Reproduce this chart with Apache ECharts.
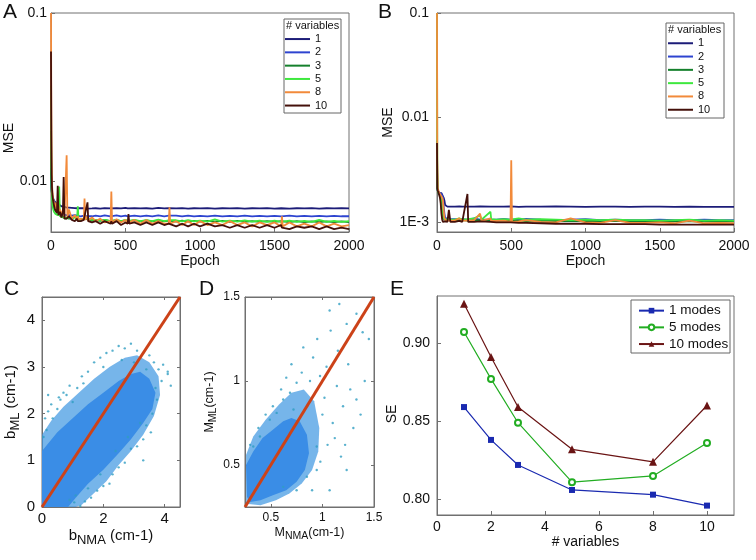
<!DOCTYPE html>
<html><head><meta charset="utf-8">
<script src="https://cdn.jsdelivr.net/npm/echarts@6/dist/echarts.min.js"></script>
<style>html,body{margin:0;padding:0;background:#fff}#c{width:756px;height:560px}</style>
</head><body><div id="c"></div>
<script>
// ---------- DATA ----------
const varNames = ['1', '2', '3', '5', '8', '10'];
const epochsA = [0,2,4,7,10,15,20,25,30,35,
 40,45,50,55,60,70,80,85,90,100,
 105,110,120,140,160,175,180,185,200,220,
 225,230,245,250,275,300,330,360,400,405,
 410,440,470,500,515,520,525,560,600,640,
 680,720,760,790,795,800,840,880,920,960,
 1000,1050,1100,1150,1200,1250,1300,1350,1400,1450,
 1500,1545,1550,1555,1600,1650,1700,1750,1800,1850,
 1900,1950,2000];
const a1 = [0.012,0.0095,0.0088,0.0084,0.0081,0.0079,0.0077,0.0076,0.0075,0.0074,
 0.0074,0.0073,0.0073,0.0072,0.0072,0.0071,0.0071,0.0071,0.0070,0.0070,
 0.0070,0.0070,0.00698,0.00696,0.00694,0.00692,0.00695,0.00691,0.00692,0.00694,
 0.0069,0.00692,0.00689,0.00693,0.0069,0.00692,0.00688,0.00694,0.0069,0.00692,
 0.00689,0.00693,0.0069,0.00696,0.0069,0.00692,0.00688,0.00693,0.0069,0.00692,
 0.00689,0.00696,0.0069,0.00693,0.00689,0.00692,0.0069,0.00694,0.00689,0.00692,
 0.0069,0.00693,0.00689,0.00692,0.0069,0.00694,0.00689,0.00692,0.0069,0.00693,
 0.00689,0.00692,0.0069,0.00693,0.00689,0.00692,0.0069,0.00694,0.00689,0.00692,
 0.0069,0.00693,0.0069];
const a2 = [0.015,0.0098,0.009,0.0085,0.008,0.0076,0.0073,0.0071,0.007,0.0069,
 0.0068,0.0067,0.0066,0.0066,0.0065,0.0065,0.0064,0.0064,0.0064,0.0063,
 0.0063,0.0063,0.0063,0.00625,0.0063,0.00625,0.0064,0.0062,0.0062,0.00625,
 0.0062,0.0064,0.0062,0.00622,0.0062,0.00625,0.0062,0.00628,0.0062,0.00622,
 0.0062,0.00628,0.0062,0.00625,0.0062,0.00635,0.0062,0.00625,0.00619,0.00625,
 0.0062,0.00627,0.0062,0.00625,0.0062,0.0062,0.00625,0.00619,0.00626,0.0062,
 0.00624,0.0062,0.00626,0.0062,0.00624,0.00619,0.00625,0.0062,0.00623,0.0062,
 0.00624,0.0062,0.00622,0.0062,0.00625,0.0062,0.00623,0.00619,0.00624,0.0062,
 0.00623,0.0062,0.0062];
const a3 = [0.02,0.011,0.0092,0.0082,0.0077,0.0073,0.007,0.0068,0.0067,0.0066,
 0.0065,0.0064,0.0064,0.0063,0.0063,0.0062,0.0062,0.0061,0.0061,0.0061,
 0.006,0.006,0.006,0.006,0.0062,0.0059,0.006,0.0059,0.0059,0.006,
 0.0059,0.0059,0.00595,0.0059,0.00585,0.0059,0.00583,0.0059,0.0058,0.00588,
 0.0058,0.00588,0.0058,0.00587,0.0058,0.0059,0.0058,0.00586,0.00579,0.00586,
 0.00579,0.00586,0.00578,0.00585,0.00578,0.00584,0.00577,0.00584,0.00577,0.00583,
 0.00576,0.00583,0.00576,0.00582,0.00575,0.00582,0.00575,0.00581,0.00574,0.00581,
 0.00574,0.0058,0.00574,0.0058,0.00573,0.0058,0.00573,0.00579,0.00572,0.00579,
 0.00572,0.00578,0.00572];
const a5 = [0.037,0.012,0.009,0.0078,0.0072,0.0068,0.0066,0.0065,0.0064,0.0064,
 0.0063,0.0063,0.0065,0.0093,0.0062,0.0062,0.0061,0.0061,0.0061,0.006,
 0.006,0.006,0.0061,0.006,0.0061,0.006,0.0071,0.0059,0.0059,0.006,
 0.0059,0.0059,0.006,0.0059,0.0059,0.0059,0.00585,0.0059,0.0058,0.0059,
 0.0058,0.0059,0.0058,0.0059,0.0058,0.0058,0.0058,0.0059,0.0058,0.00588,
 0.0058,0.00592,0.0058,0.00587,0.0058,0.0058,0.00587,0.00578,0.00588,0.00578,
 0.00585,0.00577,0.00595,0.00577,0.00584,0.00576,0.00586,0.00576,0.00584,0.00575,
 0.00585,0.00575,0.00583,0.00575,0.00584,0.00574,0.00583,0.00574,0.0059,0.00574,
 0.00583,0.00574,0.0058];
const a8 = [0.1,0.03,0.014,0.0095,0.0085,0.0078,0.0074,0.0071,0.0069,0.0075,
 0.0066,0.0065,0.0072,0.0064,0.0068,0.0063,0.0062,0.007,0.0061,0.0062,
 0.0143,0.0061,0.0068,0.006,0.0063,0.0059,0.0062,0.0059,0.006,0.0059,
 0.0079,0.0059,0.0062,0.0058,0.0061,0.0058,0.006,0.0057,0.0058,0.0087,
 0.0057,0.00595,0.0057,0.0059,0.0056,0.006,0.0057,0.0059,0.0056,0.0059,
 0.0056,0.0058,0.0056,0.0056,0.007,0.0056,0.0058,0.0055,0.0058,0.0055,
 0.0058,0.0055,0.0057,0.0055,0.0058,0.0055,0.0057,0.0054,0.0057,0.0055,
 0.0057,0.0054,0.0062,0.0054,0.0057,0.0054,0.0056,0.0054,0.0057,0.0054,
 0.0056,0.0054,0.0055];
const a10 = [0.059,0.02,0.011,0.009,0.0082,0.0076,0.0072,0.0069,0.0067,0.0066,
 0.0065,0.0094,0.0063,0.0062,0.0066,0.0061,0.0066,0.0106,0.006,0.0061,
 0.006,0.0059,0.0062,0.0059,0.0058,0.006,0.0058,0.0059,0.0058,0.0059,
 0.0058,0.0059,0.0075,0.0058,0.0057,0.0058,0.0056,0.0058,0.0056,0.0058,
 0.0056,0.0058,0.0055,0.0057,0.0056,0.0064,0.0056,0.0057,0.0055,0.0057,
 0.0055,0.0057,0.0055,0.0056,0.0055,0.0057,0.0054,0.0056,0.0054,0.0056,
 0.0054,0.0056,0.0054,0.0055,0.0053,0.0055,0.0053,0.0055,0.0053,0.0055,
 0.0053,0.0055,0.0053,0.0054,0.0052,0.0054,0.0053,0.0054,0.0052,0.0054,
 0.0052,0.0053,0.0052];

const epochsB = [0,2,5,10,15,20,25,30,35,40,45,50,55,60,65,70,80,90,100,120,150,170,205,210,250,290,300,360,365,400,450,495,500,505,550,600,700,800,900,1000,1100,1200,1300,1400,1500,1600,1700,1800,1900,2000];
const b1 = [0.004,0.0022,0.002,0.00195,0.0019,0.0019,0.0019,0.00188,0.00185,0.0018,
 0.0017,0.0016,0.00145,0.0014,0.0014,0.0014,0.00141,0.0014,0.00139,0.0014,
 0.00141,0.0014,0.0014,0.00139,0.0014,0.00141,0.0014,0.0014,0.00139,0.0014,
 0.0014,0.00141,0.0014,0.0014,0.00139,0.0014,0.0014,0.00141,0.0014,0.00139,
 0.0014,0.0014,0.00139,0.0014,0.0014,0.00139,0.0014,0.00139,0.00139,0.00139];
const b2 = [0.003,0.0021,0.002,0.00195,0.0019,0.0019,0.00188,0.00185,0.0018,0.0017,
 0.0014,0.0012,0.0011,0.00108,0.00107,0.00106,0.00106,0.00106,0.00108,0.00106,
 0.00105,0.00106,0.00105,0.00106,0.00108,0.00105,0.00106,0.00105,0.00106,0.00105,
 0.00107,0.00105,0.00105,0.00106,0.00105,0.00107,0.00105,0.00104,0.00105,0.00106,
 0.00104,0.00105,0.00104,0.00104,0.00105,0.00104,0.00104,0.00105,0.00104,0.00104];
const b3 = [0.006,0.0021,0.002,0.0019,0.0019,0.0018,0.0017,0.0014,0.0012,0.0011,
 0.00106,0.00105,0.00105,0.00104,0.00105,0.00104,0.00104,0.00105,0.00104,0.00104,
 0.00104,0.00104,0.00103,0.00104,0.00104,0.00104,0.00103,0.00104,0.00103,0.00103,
 0.00103,0.00103,0.00103,0.00103,0.00103,0.00102,0.00103,0.00102,0.00102,0.00102,
 0.00102,0.00102,0.00102,0.00101,0.00102,0.00101,0.00101,0.00102,0.00101,0.00101];
const b5 = [0.1,0.003,0.002,0.0019,0.0019,0.0018,0.0017,0.0015,0.0012,0.0011,
 0.00107,0.00106,0.00106,0.00105,0.00106,0.00105,0.00107,0.00105,0.00106,0.00105,
 0.00108,0.00105,0.00106,0.00105,0.00108,0.00115,0.00105,0.00125,0.00106,0.00105,
 0.00106,0.00105,0.00105,0.00106,0.00108,0.00105,0.00106,0.00105,0.00104,0.00105,
 0.00104,0.00105,0.00104,0.00104,0.00103,0.00104,0.00105,0.00103,0.00104,0.00103];
const b8 = [0.1,0.004,0.0021,0.002,0.0019,0.0019,0.0018,0.0018,0.0017,0.0016,
 0.0013,0.0011,0.00104,0.00103,0.00104,0.00103,0.00106,0.00103,0.00104,0.00103,
 0.00108,0.00103,0.00103,0.00102,0.00104,0.0012,0.00102,0.00108,0.00102,0.00102,
 0.00103,0.001,0.0039,0.001,0.00101,0.00104,0.001,0.00099,0.00108,0.00099,
 0.00098,0.00104,0.00098,0.00098,0.00099,0.00097,0.00103,0.00097,0.00098,0.00097];
const b10 = [0.0057,0.0021,0.002,0.0019,0.0018,0.0017,0.0015,0.0012,0.00105,0.001,
 0.001,0.001,0.00101,0.001,0.001,0.001,0.0013,0.001,0.00101,0.001,
 0.00102,0.001,0.00185,0.001,0.001,0.00101,0.001,0.001,0.001,0.00099,
 0.00099,0.00099,0.00099,0.00099,0.00098,0.00098,0.00097,0.00096,0.00096,0.00096,
 0.00095,0.00095,0.00095,0.00095,0.00094,0.00094,0.00094,0.00094,0.00094,0.00094];

const logTicksA = [0.01, 0.1], logLabelsA = ['0.01', '0.1'];
const logTicksB = [0.001, 0.01, 0.1], logLabelsB = ['1E-3', '0.01', '0.1'];

// panel C: b_ML vs b_NMA
const cCore = [[0,0],[0,1.2],[0.5,1.6],[1.0,1.9],[1.5,2.2],[2.0,2.45],[2.5,2.7],[2.9,2.85],[3.2,2.9],[3.5,2.75],[3.7,2.45],[3.6,2.1],[3.3,1.8],[2.9,1.45],[2.5,1.15],[2.0,0.8],[1.5,0.5],[1.1,0.2],[0.85,0]];
const cHalo = [[0,0],[0,1.55],[0.3,1.85],[0.7,2.15],[1.2,2.45],[1.7,2.75],[2.2,3.0],[2.7,3.2],[3.1,3.25],[3.5,3.1],[3.8,2.8],[3.85,2.4],[3.65,1.95],[3.3,1.55],[2.9,1.2],[2.5,0.9],[2.1,0.55],[1.7,0.3],[1.3,0.05],[1.1,0]];
const cPoints = [[0.05,1.5],[0.1,1.9],[0.2,2.05],[0.15,1.65],[0.35,1.9],[0.5,2.1],[0.6,2.3],[0.7,2.45],[0.9,2.6],[1.0,2.25],[1.15,2.55],[1.3,2.8],[1.5,2.9],[1.7,3.1],[1.9,3.2],[2.1,3.3],[2.3,3.35],[2.5,3.45],[2.7,3.4],[2.9,3.5],[3.1,3.35],[3.3,3.3],[3.5,3.25],[3.65,3.1],[3.8,2.95],[3.95,3.05],[4.1,2.85],[4.2,2.6],[3.9,2.7],[3.7,2.55],[3.75,2.3],[3.6,2.0],[3.4,1.75],[3.3,1.45],[3.1,1.3],[2.9,1.25],[2.7,0.95],[2.5,0.85],[2.3,0.7],[2.2,0.5],[2.0,0.45],[1.8,0.35],[1.6,0.2],[1.4,0.12],[1.25,0.02],[1.05,0.1],[0.3,2.2],[0.55,2.35],[1.35,2.65],[0.8,2.4],[2.0,3.0],[2.6,3.15],[3.0,3.1],[3.4,2.95],[3.55,1.6],[3.2,1.8],[2.8,1.5],[2.4,1.2],[1.9,0.7],[1.5,0.4],[1.1,0.25],[0.9,0.15],[4.1,2.9],[3.3,1.0],[0.2,2.4]];
const cIdentity = [[0,0],[4.5,4.5]];
const cTicksX = [0, 2, 4], cTicksY = [0, 1, 2, 3, 4];

// panel D: M_ML vs M_NMA
const dCore = [[0.27,0.31],[0.26,0.5],[0.33,0.58],[0.42,0.66],[0.52,0.71],[0.62,0.76],[0.70,0.78],[0.78,0.76],[0.85,0.68],[0.87,0.57],[0.83,0.47],[0.75,0.40],[0.65,0.35],[0.52,0.32],[0.40,0.29],[0.30,0.28]];
const dHalo = [[0.26,0.27],[0.26,0.56],[0.33,0.67],[0.45,0.77],[0.58,0.86],[0.70,0.93],[0.82,0.95],[0.92,0.88],[0.97,0.72],[0.96,0.58],[0.90,0.47],[0.80,0.39],[0.68,0.33],[0.55,0.29],[0.40,0.26]];
const dPoints = [[1.164,1.458],[1.07,1.42],[1.235,1.34],[1.33,1.40],[1.39,1.29],[1.41,1.0],[1.27,0.95],[1.33,0.89],[1.14,0.97],[1.235,0.47],[1.07,0.35],[0.945,0.61],[0.91,1.14],[0.815,1.20],[0.977,1.03],[1.04,1.085],[0.75,0.99],[0.686,0.93],[0.62,0.89],[0.49,0.77],[0.557,0.81],[0.395,0.67],[0.33,0.61],[0.945,0.47],[0.85,0.43],[0.75,0.35],[0.62,0.37],[1.0,0.8],[1.1,0.75],[1.2,0.85],[1.05,0.62],[0.88,1.0],[0.95,1.25],[1.15,1.18],[1.25,1.1],[1.3,0.72],[1.18,0.55],[0.9,0.35],[1.02,0.9],[0.8,1.05],[0.7,1.1],[0.6,0.95],[0.52,0.85],[0.45,0.8],[0.38,0.72],[1.12,0.66],[1.22,0.62],[0.98,0.52],[0.85,0.85],[0.72,0.83],[1.45,1.25],[1.37,0.8],[0.3,0.62],[0.65,1.02],[1.08,1.3]];
const dIdentity = [[0.25,0.25],[1.5,1.5]];
const dTicks = [0.5, 1, 1.5];

// panel E: SE vs # variables
const modeNames = ['1 modes', '5 modes', '10 modes'];
const nVars = [1, 2, 3, 5, 8, 10];
const se1 = [0.859, 0.838, 0.822, 0.806, 0.803, 0.796];
const se5 = [0.907, 0.877, 0.849, 0.811, 0.815, 0.836];
const se10 = [0.925, 0.891, 0.859, 0.832, 0.824, 0.860];
const eTicksX = [0, 2, 4, 6, 8, 10];
const eTicksY = [0.80, 0.85, 0.90];

// ---------- STYLE ----------
const FONT = "'Liberation Sans', Arial, sans-serif";
const AX = '#707070';
const TXT = '#111';
const varColors = ['#1c1c78', '#2e44d0', '#15802c', '#3ee83e', '#f28a3a', '#44100a'];
const modeColors = ['#1a2ab0', '#22ad22', '#6a1414'];

const chart = echarts.init(document.getElementById('c'), null, {renderer: 'canvas'});

function logFmt(ticks, labels) {
  return function (v) {
    const i = ticks.findIndex(t => Math.abs(Math.log10(v / t)) < 1e-6);
    return i >= 0 ? labels[i] : '';
  };
}
function baseAxis(extra) {
  return Object.assign({
    axisLine: {show: true, onZero: false, lineStyle: {color: AX, width: 1}},
    axisTick: {show: true, inside: true, length: 4, lineStyle: {color: AX}},
    splitLine: {show: false},
    axisLabel: {color: TXT, fontSize: 14, fontFamily: FONT},
    nameTextStyle: {color: TXT, fontSize: 14, fontFamily: FONT},
    nameLocation: 'middle'
  }, extra);
}
function mirror(gridIndex, pos, min, max, ticks) {
  return {
    type: 'value', gridIndex, position: pos, min, max,
    axisLine: {show: true, onZero: false, lineStyle: {color: AX}},
    axisTick: {show: true, inside: true, length: 3, customValues: ticks, lineStyle: {color: AX}},
    axisLabel: {show: false}, splitLine: {show: false}
  };
}
const subRich = (n, s) => ({
  n: {fontSize: n, color: TXT, fontFamily: FONT},
  s: {fontSize: s, color: TXT, fontFamily: FONT, padding: [Math.round(s * 0.8), 0, 0, 0]}
});
const plain = v => String(v);

const grids = [
  {left: 51, top: 13, width: 298, height: 219},
  {left: 437, top: 13, width: 297, height: 219},
  {left: 42, top: 297, width: 138, height: 210},
  {left: 245, top: 297, width: 129, height: 210},
  {left: 437, top: 296, width: 297, height: 219}
].map(g => Object.assign(g, {show: true, borderColor: AX, borderWidth: 1, containLabel: false}));

const xAxis = [
  baseAxis({type: 'value', gridIndex: 0, min: 0, max: 2000, interval: 500, name: 'Epoch', nameGap: 21,
    axisLabel: {color: TXT, fontSize: 14, fontFamily: FONT, margin: 7, formatter: plain}}),
  baseAxis({type: 'value', gridIndex: 1, min: 0, max: 2000, interval: 500, name: 'Epoch', nameGap: 21,
    axisLabel: {color: TXT, fontSize: 14, fontFamily: FONT, margin: 7, formatter: plain}}),
  baseAxis({type: 'value', gridIndex: 2, min: 0, max: 4.5, name: '{n|b}{s|NMA}{n| (cm-1)}', nameGap: 17,
    nameTextStyle: {rich: subRich(15, 13)},
    axisTick: {show: true, inside: true, length: 3, customValues: cTicksX, lineStyle: {color: AX}},
    axisLabel: {color: TXT, fontSize: 15, fontFamily: FONT, margin: 4, customValues: cTicksX}}),
  baseAxis({type: 'value', gridIndex: 3, min: 0.25, max: 1.5, name: '{n|M}{s|NMA}{n|(cm-1)}', nameGap: 16,
    nameTextStyle: {rich: subRich(12.5, 10.5)},
    axisTick: {show: true, inside: true, length: 3, customValues: dTicks, lineStyle: {color: AX}},
    axisLabel: {color: TXT, fontSize: 12, fontFamily: FONT, margin: 5, customValues: dTicks, formatter: plain}}),
  baseAxis({type: 'value', gridIndex: 4, min: 0, max: 11, name: '# variables', nameGap: 19,
    nameTextStyle: {color: TXT, fontSize: 14, fontFamily: FONT},
    axisTick: {show: true, inside: true, length: 4, customValues: eTicksX, lineStyle: {color: AX}},
    axisLabel: {color: TXT, fontSize: 14, fontFamily: FONT, margin: 5, customValues: eTicksX}}),
  mirror(2, 'top', 0, 4.5, cTicksX),
  mirror(3, 'top', 0.25, 1.5, dTicks)
];
const yAxis = [
  baseAxis({type: 'log', logBase: 10, gridIndex: 0, min: 0.005, max: 0.1, name: 'MSE', nameGap: 23, nameRotate: 90,
    nameTextStyle: {color: TXT, fontSize: 14, fontFamily: FONT, padding: [0, 31, 0, 0]},
    axisLabel: {color: TXT, fontSize: 14, fontFamily: FONT, margin: 4, formatter: logFmt(logTicksA, logLabelsA)}}),
  baseAxis({type: 'log', logBase: 10, gridIndex: 1, min: 0.0008, max: 0.1, name: 'MSE', nameGap: 25, nameRotate: 90,
    axisLabel: {color: TXT, fontSize: 14, fontFamily: FONT, margin: 8, formatter: logFmt(logTicksB, logLabelsB)}}),
  baseAxis({type: 'value', gridIndex: 2, min: 0, max: 4.5, name: '{n|b}{s|ML}{n| (cm-1)}', nameGap: 20, nameRotate: 90,
    nameTextStyle: {rich: subRich(15, 13)},
    axisTick: {show: true, inside: true, length: 3, customValues: cTicksY, lineStyle: {color: AX}},
    axisLabel: {color: TXT, fontSize: 15, fontFamily: FONT, margin: 7, customValues: cTicksY}}),
  baseAxis({type: 'value', gridIndex: 3, min: 0.25, max: 1.5, name: '{n|M}{s|ML}{n|(cm-1)}', nameGap: 26, nameRotate: 90,
    nameTextStyle: {rich: subRich(12.5, 10.5)},
    axisTick: {show: true, inside: true, length: 3, customValues: dTicks, lineStyle: {color: AX}},
    axisLabel: {color: TXT, fontSize: 12, fontFamily: FONT, margin: 5, customValues: dTicks, formatter: plain}}),
  baseAxis({type: 'value', gridIndex: 4, min: 0.79, max: 0.93, name: 'SE', nameGap: 29, nameRotate: 90,
    nameTextStyle: {color: TXT, fontSize: 14, fontFamily: FONT, padding: [0, 17, 0, 0]},
    axisTick: {show: true, inside: true, length: 4, customValues: eTicksY, lineStyle: {color: AX}},
    axisLabel: {color: TXT, fontSize: 14, fontFamily: FONT, margin: 7, customValues: eTicksY, formatter: v => v.toFixed(2)}}),
  mirror(2, 'right', 0, 4.5, cTicksY),
  mirror(3, 'right', 0.25, 1.5, dTicks)
];

const series = [];
const aSets = [a1, a2, a3, a5, a8, a10];
const bSets = [b1, b2, b3, b5, b8, b10];
aSets.forEach((vals, i) => series.push({
  type: 'line', name: varNames[i], xAxisIndex: 0, yAxisIndex: 0, symbol: 'none', showSymbol: false,
  data: epochsA.map((e, j) => [e, vals[j]]), color: varColors[i],
  lineStyle: {color: varColors[i], width: 1.8}, itemStyle: {color: varColors[i]}, animation: false
}));
bSets.forEach((vals, i) => series.push({
  type: 'line', name: varNames[i], xAxisIndex: 1, yAxisIndex: 1, symbol: 'none', showSymbol: false,
  data: epochsB.map((e, j) => [e, vals[j]]), color: varColors[i],
  lineStyle: {color: varColors[i], width: 1.8}, itemStyle: {color: varColors[i]}, animation: false
}));
function polygon(axisIdx, pts, fill) {
  return {
    type: 'custom', xAxisIndex: axisIdx, yAxisIndex: axisIdx, silent: true, animation: false, clip: true,
    data: pts,
    renderItem: function (params, api) {
      if (params.dataIndex !== 0) return null;
      return {type: 'polygon', shape: {points: pts.map(p => api.coord(p))}, style: {fill: fill}};
    }
  };
}
[[2, cHalo, cCore, cPoints, cIdentity], [3, dHalo, dCore, dPoints, dIdentity]].forEach(([k, halo, core, pts, ident]) => {
  series.push(polygon(k, halo, 'rgba(60,150,225,0.7)'));
  series.push(polygon(k, core, '#3a8de6'));
  series.push({type: 'scatter', xAxisIndex: k, yAxisIndex: k, data: pts, symbolSize: 2.4,
    itemStyle: {color: '#2f9dc2'}, silent: true, animation: false});
  series.push({type: 'line', xAxisIndex: k, yAxisIndex: k, data: ident, symbol: 'none',
    lineStyle: {color: '#cc4218', width: 3}, silent: true, animation: false});
});
const eSets = [se1, se5, se10];
const eSym = ['rect', 'emptyCircle', 'triangle'];
const eSize = [6, 6, 8];
eSets.forEach((vals, i) => series.push({
  type: 'line', name: modeNames[i], xAxisIndex: 4, yAxisIndex: 4, data: nVars.map((n, j) => [n, vals[j]]),
  symbol: eSym[i], symbolSize: eSize[i], showSymbol: true, color: modeColors[i],
  lineStyle: {color: modeColors[i], width: 1.2}, itemStyle: {color: modeColors[i], borderWidth: 1.5}, animation: false
}));

const legendText = {color: TXT, fontFamily: FONT, fontSize: 11, lineHeight: 13.3};
const legend = [
  {data: varNames, orient: 'vertical', left: 285, top: 32.4, padding: 0, itemGap: 0, icon: 'rect',
   itemWidth: 25, itemHeight: 2, textStyle: legendText, selectedMode: false, z: 10},
  {data: varNames, orient: 'vertical', left: 668, top: 36.6, padding: 0, itemGap: 0, icon: 'rect',
   itemWidth: 25, itemHeight: 2, textStyle: legendText, selectedMode: false, z: 10},
  {data: modeNames, orient: 'vertical', left: 638, top: 302.3, padding: 0, itemGap: 0,
   itemWidth: 25, itemHeight: 7, textStyle: {color: TXT, fontFamily: FONT, fontSize: 13.5, lineHeight: 16.7},
   selectedMode: false, z: 10}
];

const letter = (t, x, y) => ({type: 'text', left: x, top: y, z: 10,
  style: {text: t, fontSize: 21, fontFamily: FONT, fill: TXT}});
const box = (x, y, w, h) => ({type: 'rect', left: x, top: y, z: 8,
  shape: {x: 0, y: 0, width: w, height: h}, style: {fill: '#fff', stroke: '#666', lineWidth: 1}});
const graphic = [
  box(283.5, 18.5, 57, 94), box(665.5, 22.5, 58, 95), box(630.5, 299.5, 99, 53),
  {type: 'text', left: 286, top: 20.5, z: 10, style: {text: '# variables', fontSize: 11, fontFamily: FONT, fill: TXT}},
  {type: 'text', left: 668, top: 24.5, z: 10, style: {text: '# variables', fontSize: 11, fontFamily: FONT, fill: TXT}},
  letter('A', 3, 2), letter('B', 378, 2), letter('C', 4, 279), letter('D', 199, 279), letter('E', 390, 279)
];

chart.setOption({
  backgroundColor: '#fff', animation: false,
  textStyle: {fontFamily: FONT},
  grid: grids, xAxis, yAxis, series, legend, graphic, tooltip: {show: false}
});
</script></body></html>
